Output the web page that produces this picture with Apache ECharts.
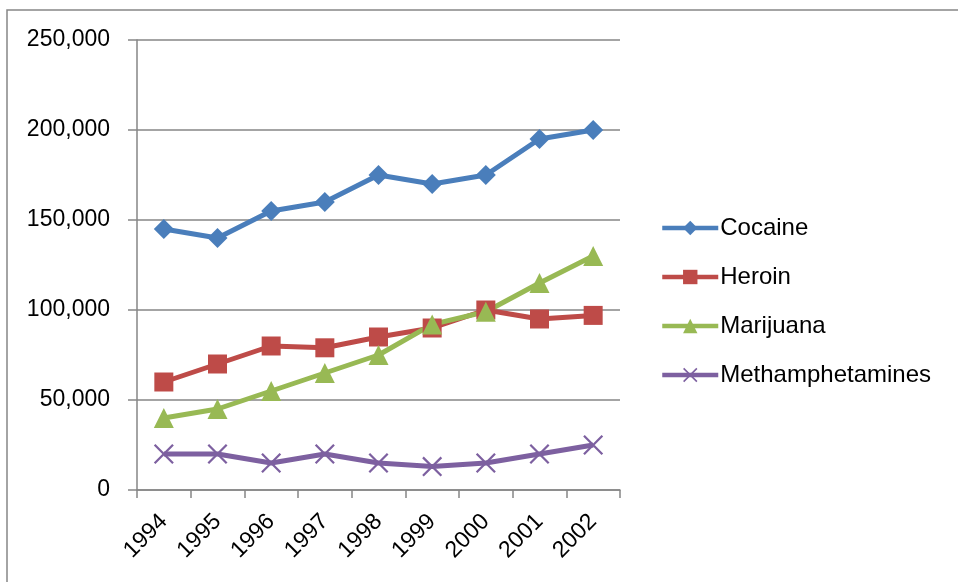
<!DOCTYPE html>
<html>
<head>
<meta charset="utf-8">
<script src="https://cdn.jsdelivr.net/npm/echarts@6/dist/echarts.min.js"></script>
<style>
  html, body { margin: 0; padding: 0; background: #fff; }
  #chart { width: 958px; height: 582px; }
</style>
</head>
<body>
<div id="chart"></div>
<script>
// Drug seizures by year, line chart

var years = ["1994", "1995", "1996", "1997", "1998", "1999", "2000", "2001", "2002"];
var cocaine = [145000, 140000, 155000, 160000, 175000, 170000, 175000, 195000, 200000];
var heroin = [60000, 70000, 80000, 79000, 85000, 90000, 100000, 95000, 97000];
var marijuana = [40000, 45000, 55000, 65000, 75000, 92000, 99000, 115000, 130000];
var meth = [20000, 20000, 15000, 20000, 15000, 13000, 15000, 20000, 25000];

var fontName = "Liberation Sans";
var axisGray = "#868686";
var crossPath = "path://M0,0.8L0.8,0L10,9.2L9.2,10ZM9.2,0L10,0.8L0.8,10L0,9.2Z";

function lineSeries(name, data, color, symbol, size) {
  return {
    name: name,
    type: "line",
    data: data,
    symbol: symbol,
    symbolSize: size,
    color: color,
    lineStyle: { color: color, width: 5 },
    itemStyle: { color: color },
    emphasis: { disabled: true },
    animation: false
  };
}

var myChart = echarts.init(document.getElementById("chart"));

var option = {
  backgroundColor: "#fff",
  textStyle: { fontFamily: fontName },
  graphic: [{
    type: "rect",
    shape: { x: 7, y: 10, width: 1000, height: 1000 },
    style: { fill: "none", stroke: axisGray, lineWidth: 1.5 },
    silent: true
  }],
  grid: { left: 137, top: 40, right: 338, bottom: 92, containLabel: false },
  legend: {
    orient: "vertical",
    left: 655,
    top: 211,
    itemWidth: 56,
    itemHeight: 18,
    itemGap: 25,
    lineStyle: { width: 4.5 },
    textStyle: { fontFamily: fontName, fontSize: 24, color: "#000", lineHeight: 24, padding: [0, 0, 0, -3] },
    data: ["Cocaine", "Heroin", "Marijuana", "Methamphetamines"]
  },
  xAxis: {
    type: "category",
    data: years,
    boundaryGap: true,
    axisLine: { lineStyle: { color: axisGray, width: 1.5 } },
    axisTick: { show: true, length: 8, lineStyle: { color: axisGray, width: 1.5 } },
    axisLabel: { rotate: 45, margin: 28, fontSize: 23, color: "#000", fontFamily: fontName, interval: 0 },
    splitLine: { show: false }
  },
  yAxis: {
    type: "value",
    min: 0,
    max: 250000,
    interval: 50000,
    axisLine: { show: true, lineStyle: { color: axisGray, width: 1.5 } },
    axisTick: { show: true, length: 9, lineStyle: { color: axisGray, width: 1.5 } },
    axisLabel: {
      margin: 27,
      fontSize: 23,
      color: "#000",
      fontFamily: fontName,
      formatter: function (v) { return v.toLocaleString("en-US"); }
    },
    splitLine: { show: true, lineStyle: { color: axisGray, width: 1.5 } }
  },
  series: [
    lineSeries("Cocaine", cocaine, "#4A7EBB", "diamond", 20),
    lineSeries("Heroin", heroin, "#BE4B48", "rect", 19),
    lineSeries("Marijuana", marijuana, "#98B954", "triangle", 20),
    lineSeries("Methamphetamines", meth, "#7D60A0", crossPath, 20)
  ]
};

myChart.setOption(option);
</script>
</body>
</html>
